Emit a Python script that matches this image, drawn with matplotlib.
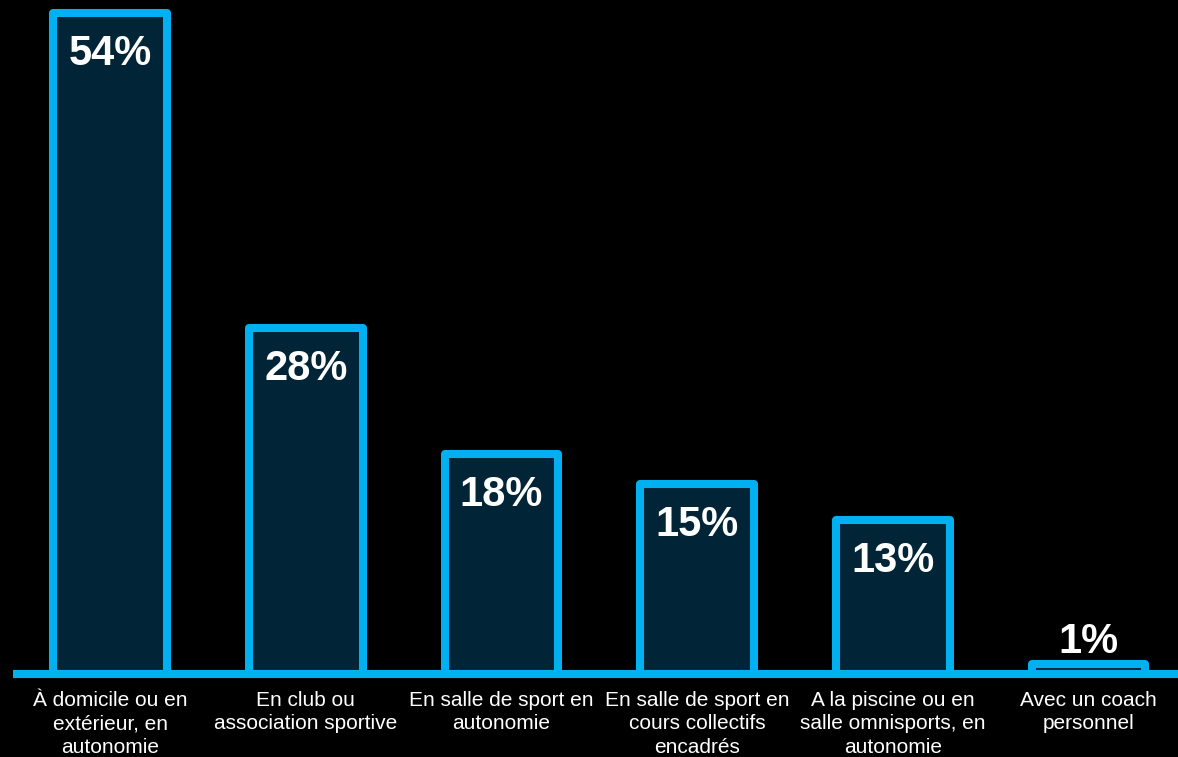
import matplotlib
matplotlib.use("Agg")
import matplotlib.pyplot as plt

categories = ["À domicile ou en\nextérieur, en\nautonomie",
              "En club ou\nassociation sportive",
              "En salle de sport en\nautonomie",
              "En salle de sport en\ncours collectifs\nencadrés",
              "A la piscine ou en\nsalle omnisports, en\nautonomie",
              "Avec un coach\npersonnel"]
values = [54, 28.3, 18, 15.5, 12.6, 0.8]
labels = ["54%", "28%", "18%", "15%", "13%", "1%"]

W, H = 1178, 757
fig = plt.figure(figsize=(W/100, H/100), dpi=100, facecolor="black")
base_px = 674
ax = fig.add_axes([13/W, (H-base_px)/H, (W-13)/W, base_px/H])
ax.set_facecolor("black")
ax.set_xlim(-0.496, 5.457)
ax.set_ylim(0, 55.06)
for s in ax.spines.values():
    s.set_visible(False)
ax.set_xticks([]); ax.set_yticks([])

cyan = "#00B0F0"
fill = "#012536"
x = list(range(len(values)))
bars = ax.bar(x, values, width=0.58, color=fill, edgecolor=cyan, linewidth=5.8,
              clip_on=False, zorder=2)
for b in bars:
    b.set_joinstyle("round")
ax.axhline(0, color=cyan, linewidth=5.8, zorder=3, clip_on=False,
           solid_capstyle="butt")

font = "Liberation Sans"
for xi, v, lab in zip(x, values, labels):
    off = -52 if v > 5 else 11
    ax.annotate(lab, (xi, v), xytext=(0, off), textcoords="offset pixels",
                ha="center", va="baseline", color="white", fontsize=30,
                fontweight="bold", family=font, zorder=4)
    ax.annotate(categories[xi], (xi, 0), xytext=(0, -17), textcoords="offset pixels",
                ha="center", va="top", color="white", fontsize=15,
                family=font, linespacing=1.29, annotation_clip=False)

fig.savefig("out.png", dpi=100, facecolor="black")
